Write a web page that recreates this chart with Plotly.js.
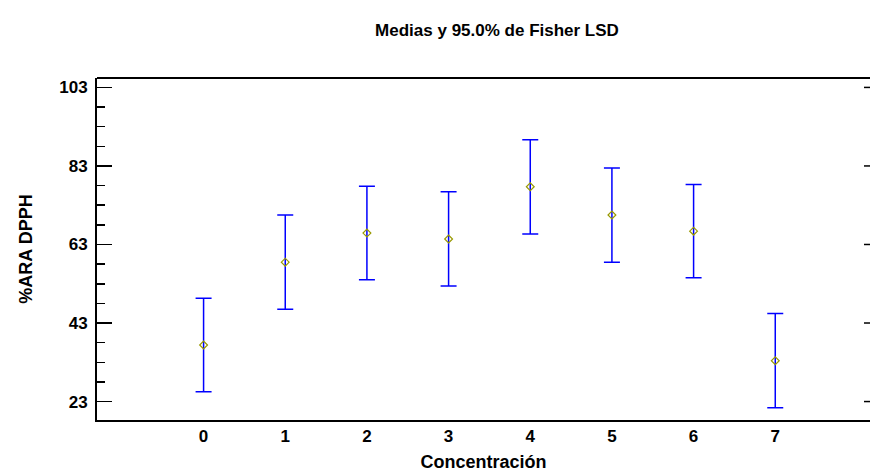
<!DOCTYPE html>
<html>
<head>
<meta charset="utf-8">
<script src="https://cdn.plot.ly/plotly-3.0.1.min.js"></script>
<style>
html, body { margin: 0; padding: 0; overflow: hidden; background: #fff; }
#chart { width: 870px; height: 472px; }
</style>
</head>
<body>
<div id="chart"></div>
<script>
// Data
const concentracion = [0, 1, 2, 3, 4, 5, 6, 7];
const medias = [37.4, 58.5, 65.9, 64.4, 77.7, 70.5, 66.4, 33.4];
const lsdHalf = [11.9, 12.0, 11.9, 12.0, 12.0, 12.0, 11.9, 12.0];
const yTicks = [23, 43, 63, 83, 103];
const xTickLabels = ['0', '1', '2', '3', '4', '5', '6', '7'];

const FONT = 'Liberation Sans, Arial, sans-serif';
const YRANGE = [18.3, 105.4];
const PLOT_W = 773;

const trace = {
  x: concentracion,
  y: medias,
  type: 'scatter',
  mode: 'markers',
  marker: {
    symbol: 'diamond-open',
    size: 6,
    color: '#999900',
    line: { width: 1.2, color: '#999900' }
  },
  error_y: {
    type: 'data',
    array: lsdHalf,
    symmetric: true,
    visible: true,
    color: '#0000ff',
    thickness: 1.5,
    width: 8
  },
  hoverinfo: 'x+y'
};

// frame pieces: top border and the short right-hand tick marks
const shapes = [
  { type: 'line', xref: 'paper', yref: 'paper', x0: 0, x1: 1.01, y0: 1, y1: 1,
    line: { color: '#000', width: 2 } }
].concat(yTicks.map(v => ({
  type: 'line', xref: 'paper', yref: 'y', x0: 1 - 6 / PLOT_W, x1: 1.01, y0: v, y1: v,
  line: { color: '#000', width: 1.5 }
})));

const layout = {
  width: 870,
  height: 472,
  margin: { l: 97, r: 0, t: 78, b: 52 },
  paper_bgcolor: '#ffffff',
  plot_bgcolor: '#ffffff',
  showlegend: false,
  font: { family: FONT, color: '#000', size: 17 },
  title: {
    text: 'Medias y 95.0% de Fisher LSD',
    font: { family: FONT, size: 17, weight: 'bold', color: '#000' },
    xref: 'paper',
    x: (497 - 97) / PLOT_W,
    xanchor: 'center',
    yref: 'container',
    y: 1 - 30 / 472,
    yanchor: 'middle'
  },
  shapes: shapes,
  xaxis: {
    range: [-1.305, 8.16],
    tickmode: 'array',
    tickvals: concentracion,
    ticktext: xTickLabels,
    ticks: '',
    showgrid: false,
    zeroline: false,
    showline: true,
    linecolor: '#000',
    linewidth: 2,
    mirror: false,
    tickfont: { family: FONT, size: 17, weight: 'bold', color: '#000' },
    title: {
      text: 'Concentración',
      font: { family: FONT, size: 18, weight: 'bold', color: '#000' },
      standoff: 10
    }
  },
  yaxis: {
    range: YRANGE,
    tickmode: 'array',
    tickvals: yTicks,
    ticktext: yTicks.map(String),
    ticks: 'inside',
    ticklen: 15,
    tickwidth: 1.5,
    tickcolor: '#000',
    minor: { dtick: 5, tick0: 23, ticks: 'inside', ticklen: 8, tickwidth: 1.5, tickcolor: '#000', showgrid: false },
    ticklabelstandoff: 4,
    showgrid: false,
    zeroline: false,
    showline: true,
    linecolor: '#000',
    linewidth: 2,
    mirror: false,
    tickfont: { family: FONT, size: 17, weight: 'bold', color: '#000' },
    title: {
      text: '%ARA DPPH',
      font: { family: FONT, size: 18, weight: 'bold', color: '#000' },
      standoff: 22
    }
  }
};

Plotly.newPlot('chart', [trace], layout, { displayModeBar: false, staticPlot: true });
</script>
</body>
</html>
